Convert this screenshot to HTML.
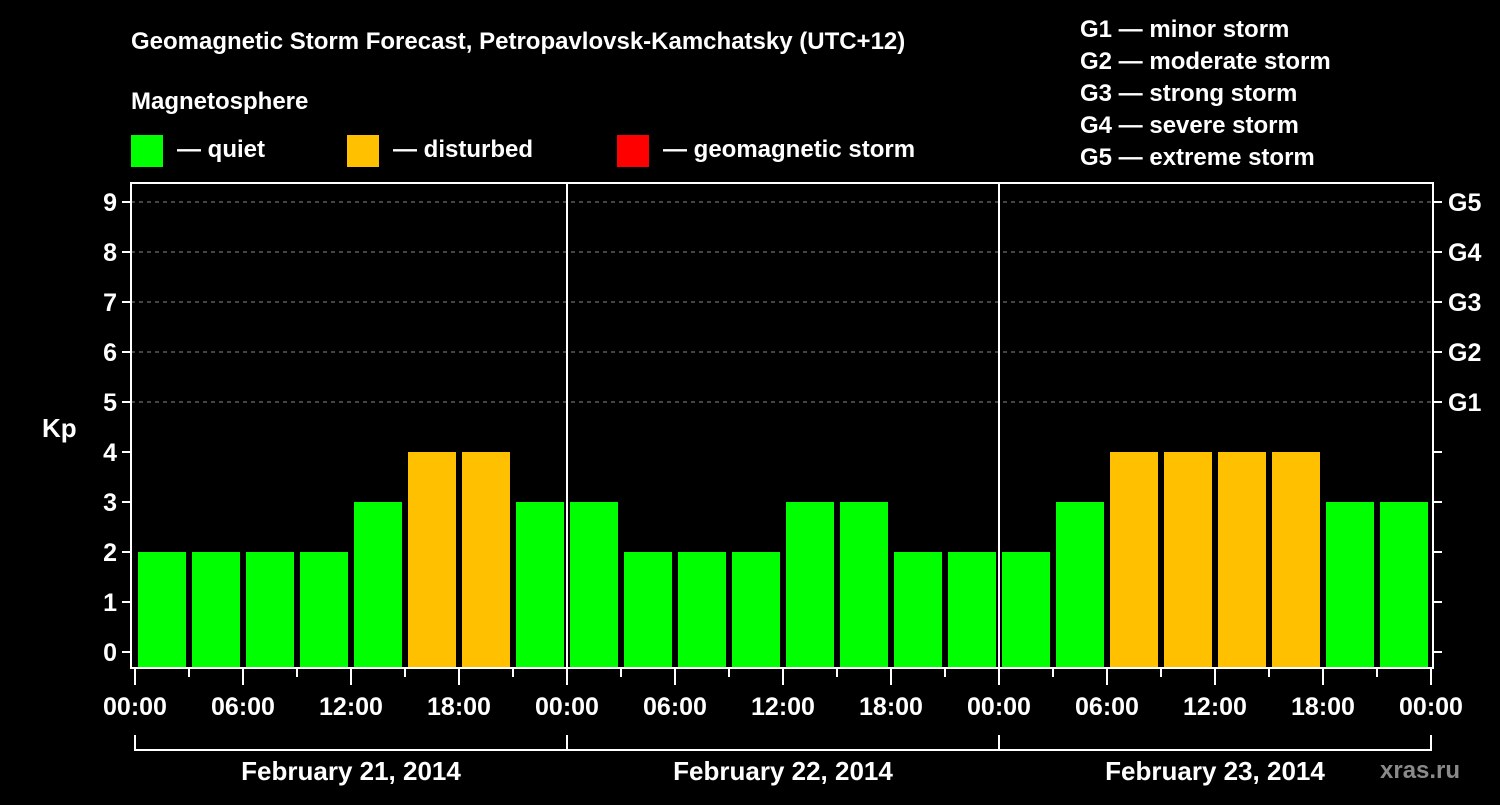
<!DOCTYPE html>
<html><head><meta charset="utf-8"><style>
body{margin:0;background:#000;width:1500px;height:800px;overflow:hidden}
svg text{font-family:"Liberation Sans",Arial,sans-serif;font-weight:bold;fill:#fff}
</style></head><body>
<svg id="c" width="1500" height="800" xmlns="http://www.w3.org/2000/svg">
<rect width="1500" height="800" fill="#000"/>
<text x="131" y="49" font-size="24">Geomagnetic Storm Forecast, Petropavlovsk-Kamchatsky (UTC+12)</text>
<text x="131" y="109" font-size="24">Magnetosphere</text>
<g><rect x="131" y="135" width="32" height="32" fill="#00ff00"/><text x="177" y="157" font-size="24">— quiet</text></g>
<g><rect x="347" y="135" width="32" height="32" fill="#ffc000"/><text x="393" y="157" font-size="24">— disturbed</text></g>
<g><rect x="617" y="135" width="32" height="32" fill="#ff0000"/><text x="663" y="157" font-size="24">— geomagnetic storm</text></g>
<g font-size="24">
<text x="1080" y="37">G1 — minor storm</text>
<text x="1080" y="69">G2 — moderate storm</text>
<text x="1080" y="101">G3 — strong storm</text>
<text x="1080" y="133">G4 — severe storm</text>
<text x="1080" y="165">G5 — extreme storm</text>
</g>
<text x="42" y="437" font-size="26">Kp</text>
<text x="1380" y="778" font-size="24" fill="#888" style="fill:#8a8a8a">xras.ru</text>
<g id="plot"></g>
</svg>
<script>
const days = ["February 21, 2014","February 22, 2014","February 23, 2014"];
const kpDay1 = [2,2,2,2,3,4,4,3];
const kpDay2 = [3,2,2,2,3,3,2,2];
const kpDay3 = [2,3,4,4,4,4,3,3];
const yTicks = [0,1,2,3,4,5,6,7,8,9];
const gLabels = ["G1","G2","G3","G4","G5"];
const xTickLabels = ["00:00","06:00","12:00","18:00"];

const X0=135, PXH=18, Y0=652, PXU=50, L=131, R=1433, T=183, B=668;
const xs=h=>X0+h*PXH, ys=v=>Y0-v*PXU;
const g=document.getElementById('plot'), NS="http://www.w3.org/2000/svg";
function mk(tag,attrs,parent){const e=document.createElementNS(NS,tag);for(const k in attrs)e.setAttribute(k,attrs[k]);(parent||g).appendChild(e);return e;}
// grid
for(let v=5;v<=9;v++){
 const l=mk('line',{x1:L,x2:R,y1:ys(v),y2:ys(v),stroke:'#888','stroke-dasharray':'4,4','stroke-width':1});
 
 
}
// bars
const all=[kpDay1,kpDay2,kpDay3];
all.forEach((arr,d)=>arr.forEach((v,i)=>{
 const h=d*24+i*3;
 const col=v>=5?'#ff0000':(v>=4?'#ffc000':'#00ff00');
 const r=mk('rect',{x:xs(h)+3,y:ys(v),width:48,height:B-ys(v),fill:col});
 
 
}));
// frame
const fr=mk('rect',{x:L,y:T,width:R-L,height:B-T,fill:'none',stroke:'#fff','stroke-width':2});


for(let d=1;d<days.length;d++){
 const s=mk('line',{x1:xs(d*24),x2:xs(d*24),y1:T,y2:B,stroke:'#fff','stroke-width':2});
 
 
}
// y ticks
yTicks.forEach(v=>{
 mk('line',{x1:L-9,x2:L,y1:ys(v),y2:ys(v),stroke:'#fff','stroke-width':2});
 mk('line',{x1:R,x2:R+9,y1:ys(v),y2:ys(v),stroke:'#fff','stroke-width':2});
 const t=mk('text',{x:L-14,y:ys(v)+9,'text-anchor':'end','font-size':25});
 t.textContent=v;
 
 
});
gLabels.forEach((s,i)=>{
 const t=mk('text',{x:1448,y:ys(5+i)+9,'font-size':25});
 t.textContent=s;
 
 
});
// x ticks
for(let h=0;h<=days.length*24;h+=3){
 const major=h%6===0;
 mk('line',{x1:xs(h),x2:xs(h),y1:B,y2:B+(major?17:9),stroke:'#fff','stroke-width':2});
 if(major){
  const t=mk('text',{x:xs(h),y:715,'text-anchor':'middle','font-size':25});
  t.textContent=xTickLabels[(h%24)/6];
  
  
 }
}
// day brackets
days.forEach((s,d)=>{
 const a=xs(d*24),b=xs(d*24+24);
 mk('path',{d:`M${a},735V750H${b}V735`,stroke:'#fff','stroke-width':2,fill:'none'});
 const t=mk('text',{x:(a+b)/2,y:780,'text-anchor':'middle','font-size':26});
 t.textContent=s;
 
 
});
</script>
</body></html>
